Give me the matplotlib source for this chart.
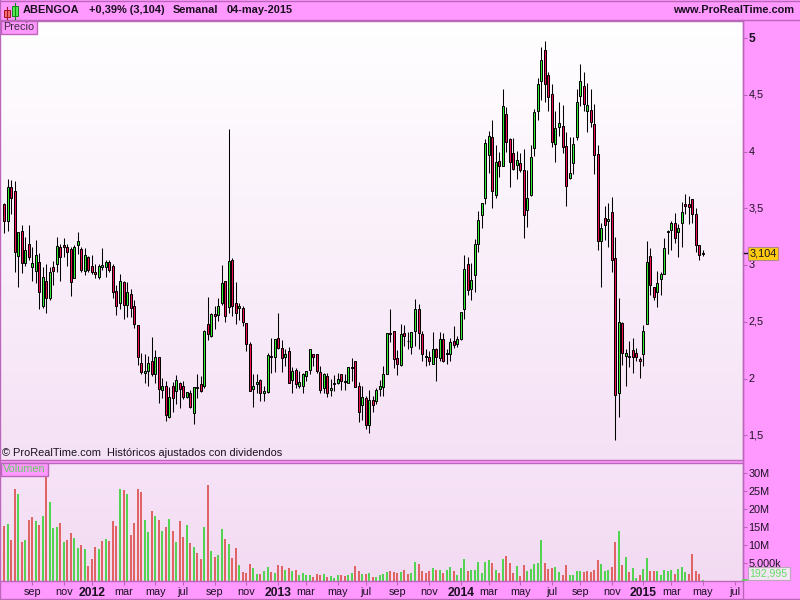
import numpy as np
import matplotlib
matplotlib.use("Agg")
import matplotlib.pyplot as plt
from matplotlib.colors import LinearSegmentedColormap
from matplotlib.patches import Rectangle
from matplotlib.transforms import ScaledTranslation

plt.rcParams['font.family'] = ['Liberation Sans', 'DejaVu Sans']

opens = [3.54,3.39,3.69,3.65,3.08,3.30,3.02,3.19,2.98,2.95,
3.03,2.64,2.86,2.71,2.98,3.01,3.16,3.18,3.16,3.14,
2.89,3.18,3.14,2.95,3.07,2.99,2.94,2.90,2.98,2.98,
3.03,2.99,2.77,2.67,2.85,2.65,2.75,2.64,2.47,2.14,
2.05,2.07,2.16,2.04,2.19,1.90,1.94,1.66,1.94,1.89,
1.96,1.94,1.84,1.87,1.70,1.92,1.95,1.94,2.48,2.38,
2.57,2.56,2.67,2.86,2.63,3.05,2.67,2.62,2.62,2.49,
2.31,1.91,1.95,1.99,1.87,1.88,2.20,2.19,2.36,2.27,
2.19,2.24,1.99,2.08,1.94,1.94,2.02,2.08,2.22,2.22,
2.06,1.92,2.02,1.90,1.95,1.96,2.04,1.97,1.96,2.09,
2.16,1.94,1.77,1.83,1.59,1.81,1.80,1.91,1.93,2.04,
2.39,2.42,2.18,2.12,2.40,2.33,2.28,2.42,2.61,2.39,
2.19,2.19,2.13,2.26,2.18,2.35,2.22,2.22,2.33,2.31,
2.35,2.61,3.01,2.79,2.91,3.19,3.44,3.59,3.97,4.13,
3.62,3.92,3.87,4.33,4.11,3.99,3.88,3.90,3.84,3.49,
3.62,4.03,4.36,4.62,4.90,4.68,4.51,4.07,4.22,4.23,
4.05,3.77,3.90,4.13,4.49,4.58,4.36,4.37,4.24,3.98,
3.21,3.42,3.39,3.47,3.06,1.87,2.49,2.20,2.20,2.25,
2.23,2.17,2.22,2.48,3.08,2.81,2.76,2.88,2.92,3.29,
3.31,3.37,3.29,3.37,3.54,3.54,3.58,3.45,3.18,3.10]

closes = [3.39,3.69,3.59,3.12,3.29,3.02,3.13,3.07,3.02,3.09,
2.76,2.90,2.71,2.94,2.95,3.17,3.07,3.16,3.12,2.85,
3.16,3.21,2.96,3.09,2.96,2.94,2.92,2.99,3.00,3.03,
2.96,2.76,2.64,2.86,2.65,2.76,2.62,2.48,2.19,2.06,
2.07,2.14,2.04,2.19,1.91,1.94,1.68,1.84,1.83,1.99,
1.91,1.84,1.88,1.75,1.93,1.93,1.89,2.42,2.39,2.57,
2.55,2.64,2.84,2.55,3.04,2.64,2.58,2.64,2.50,2.31,
1.89,1.94,1.97,1.87,1.89,2.21,2.19,2.35,2.27,2.18,
2.22,1.96,2.07,1.95,1.97,2.04,2.07,2.26,2.19,2.07,
1.90,2.04,1.87,1.92,1.96,2.00,1.98,1.98,2.10,2.10,
1.93,1.71,1.84,1.59,1.81,1.77,1.90,1.94,2.04,2.40,
2.40,2.17,2.13,2.39,2.38,2.33,2.41,2.61,2.40,2.22,
2.20,2.16,2.26,2.19,2.35,2.16,2.22,2.32,2.30,2.35,
2.59,2.97,2.78,2.87,3.19,3.40,3.55,4.08,4.14,3.65,
3.91,3.87,4.40,4.09,3.91,3.85,3.93,3.84,3.44,3.59,
3.95,4.35,4.60,4.81,4.60,4.48,4.09,4.21,4.25,4.04,
3.70,3.81,4.07,4.44,4.62,4.42,4.41,4.26,3.97,3.21,
3.33,3.35,3.41,3.05,1.86,2.50,2.23,2.23,2.19,2.19,
2.19,2.16,2.42,3.03,2.83,2.72,2.84,2.92,3.15,3.30,
3.37,3.24,3.33,3.47,3.52,3.51,3.45,3.18,3.09,3.104]

highs = [3.55,3.76,3.75,3.74,3.29,3.35,3.25,3.35,3.16,3.22,
3.11,2.98,3.01,2.98,3.04,3.25,3.19,3.24,3.19,3.16,
3.18,3.29,3.16,3.15,3.08,3.09,3.01,3.01,3.15,3.05,
3.05,3.01,2.83,2.92,2.86,2.85,2.79,2.69,2.47,2.23,
2.22,2.20,2.37,2.25,2.19,2.01,1.98,1.93,1.97,2.03,
1.97,1.98,1.88,1.90,1.93,2.04,2.02,2.43,2.72,2.58,
2.64,2.71,3.00,2.86,4.20,3.06,2.85,2.67,2.64,2.49,
2.32,2.04,2.04,2.00,1.94,2.23,2.36,2.35,2.58,2.34,
2.26,2.28,2.10,2.09,2.07,2.05,2.07,2.26,2.22,2.22,
2.11,2.05,2.05,2.00,2.03,2.05,2.04,2.04,2.10,2.18,
2.16,1.97,1.94,1.85,1.90,1.85,1.92,1.99,2.11,2.40,
2.61,2.42,2.25,2.48,2.47,2.41,2.41,2.70,2.66,2.42,
2.26,2.24,2.41,2.27,2.41,2.40,2.26,2.36,2.46,2.38,
2.59,3.09,3.07,3.02,3.23,3.48,3.55,4.11,4.18,4.28,
4.06,4.00,4.55,4.39,4.12,4.12,4.01,3.99,4.02,3.84,
4.06,4.38,4.65,4.92,4.98,4.70,4.60,4.36,4.44,4.41,
4.17,4.13,4.13,4.55,4.77,4.70,4.61,4.55,4.42,4.06,
3.37,3.52,3.55,3.60,3.25,2.71,2.50,2.26,2.33,2.36,
2.27,2.19,2.47,3.21,3.15,2.81,2.95,2.94,3.24,3.31,
3.39,3.46,3.36,3.56,3.63,3.61,3.58,3.50,3.18,3.13]

lows = [3.28,3.30,3.45,2.94,2.81,2.93,2.99,3.05,2.86,2.84,
2.61,2.62,2.58,2.69,2.83,2.94,2.86,3.07,2.99,2.73,
2.89,3.10,2.94,2.91,2.94,2.92,2.89,2.88,2.96,2.90,
2.94,2.71,2.56,2.61,2.53,2.54,2.54,2.45,2.12,2.04,
1.96,1.94,2.02,1.96,1.79,1.83,1.63,1.65,1.71,1.78,
1.74,1.82,1.83,1.74,1.60,1.83,1.885,1.92,2.34,2.37,
2.44,2.51,2.65,2.50,2.58,2.55,2.48,2.52,2.46,2.24,
1.89,1.75,1.87,1.80,1.80,1.87,2.05,2.06,2.26,2.06,
2.11,1.96,1.87,1.92,1.92,1.87,1.98,2.04,2.11,2.05,
1.87,1.87,1.84,1.85,1.89,1.95,1.90,1.90,1.96,1.98,
1.93,1.62,1.64,1.56,1.52,1.71,1.78,1.85,1.85,2.04,
2.32,2.09,2.03,2.11,2.29,2.26,2.22,2.29,2.26,2.16,
2.11,2.12,2.13,1.98,2.16,2.15,2.13,2.16,2.27,2.28,
2.34,2.53,2.74,2.69,2.76,3.12,3.33,3.54,3.81,3.50,
3.59,3.78,3.87,4.00,3.69,3.84,3.76,3.82,3.24,3.34,
3.61,3.96,4.28,4.46,4.44,4.36,4.04,3.91,4.14,3.99,
3.52,3.76,3.80,4.10,4.40,4.36,4.17,4.22,3.80,3.13,
2.81,3.22,3.16,2.94,1.46,1.66,2.12,1.94,2.10,2.05,
2.16,2.01,2.11,2.48,2.74,2.69,2.63,2.74,2.92,3.10,
3.13,3.20,3.07,3.16,3.45,3.36,3.37,3.12,3.05,3.08]

volumes = [15.3,15.8,11.4,25.4,24.2,10.8,11.4,17.0,17.8,16.7,
15.6,18.1,31.0,22.0,14.7,15.0,16.1,10.8,11.4,13.3,
11.9,9.1,10.0,8.9,4.1,6.1,9.4,8.9,11.1,11.7,
11.1,16.7,15.3,25.4,25.1,24.0,12.8,16.1,25.4,24.8,
17.0,13.6,19.5,18.1,17.0,13.9,15.0,17.2,13.9,10.8,
16.7,12.2,15.6,10.5,9.4,7.7,6.1,15.0,26.7,8.3,
6.6,7.2,14.4,11.7,10.3,6.3,9.1,4.4,2.4,2.1,
4.7,3.5,1.9,1.9,2.7,3.8,2.4,2.1,4.4,4.1,
3.0,3.5,2.7,3.0,1.6,2.1,1.6,1.6,1.0,1.9,
1.6,1.9,1.0,1.3,0.7,1.6,1.6,1.3,1.6,2.1,
4.1,2.7,1.9,1.9,2.1,1.0,1.0,1.6,1.9,2.4,
2.7,2.4,2.1,2.4,3.0,1.9,2.1,5.2,4.7,2.7,
2.1,2.7,3.5,3.0,3.0,2.1,3.0,3.8,2.7,1.6,
3.5,6.1,2.7,3.0,3.0,5.2,2.1,5.2,5.8,4.9,
3.0,2.1,6.1,6.9,4.9,2.1,4.1,1.3,4.4,2.7,
3.3,4.7,4.9,11.4,4.9,3.3,3.5,3.8,2.4,1.6,
4.4,1.6,1.6,2.7,2.7,2.4,2.7,2.4,3.0,5.8,
4.7,2.7,3.0,3.8,10.8,13.9,4.4,6.6,2.4,3.5,
0.7,1.6,3.3,6.3,2.7,2.7,2.7,1.6,3.0,2.7,
3.0,1.9,3.3,3.8,2.4,1.9,7.5,2.7,1.9,0.193]

volume_dirs = ("rgrrgrgrrg" "rgrgggrgrr" "ggrgrrrgrg" "rrrgrgrrrr" "ggrgrgrgrg"
               "rrgrgrrgrg" "rggrgrrgrr" "rggrggrgrr" "grgrggggrr" "rgrgggrrgg"
               "rrgrgrgggg" "rrrgrrggrr" "rrgrgrggrg" "ggrggggggr" "grgrrrgrrg"
               "ggggrrrggr" "rggggrrrrr" "gggrrgrgrg" "grggrrgggg" "grgggrrrrg")

time_ticks = [8,17,25,34,43,51,60,69,78,86,95,103,112,121,130,138,147,156,164,173,182,190,199,208]
time_labels = ['sep','nov','2012','mar','may','jul','sep','nov','2013','mar','may','jul','sep','nov',
               '2014','mar','may','jul','sep','nov','2015','mar','may','jul']
price_ticks = [1.5,2,2.5,3,3.5,4,4.5,5]
price_labels = ['1,5','2','2,5','3','3,5','4','4,5','5']
vol_ticks = [5,10,15,20,25,30]
vol_labels = ['5.000k','10M','15M','20M','25M','30M']

PINK = '#FF99FF'
EDGE = '#BB66BB'
TXT = '#1A1020'
UP = '#33EE33'
DOWN = '#F0104F'
VUP = '#52D452'
VDOWN = '#E06464'
FS = 7.8
W, H = 800, 600

fig = plt.figure(figsize=(8, 6), dpi=100, facecolor=PINK)

def axes_px(x0, y0, x1, y1, **kw):
    return fig.add_axes([x0/W, 1-y1/H, (x1-x0)/W, (y1-y0)/H], **kw)

ax = axes_px(1, 21, 742.5, 459.5)
vax = axes_px(1, 462.5, 742.5, 580.5)

def gradient(a, top, bottom):
    cm = LinearSegmentedColormap.from_list('g', [top, bottom])
    a.imshow(np.linspace(0, 1, 256).reshape(-1, 1), cmap=cm, aspect='auto',
             extent=(0, 1, 0, 1), transform=a.transAxes, zorder=0)

gradient(ax, '#FFFFFF', '#F5E1F5')
gradient(vax, '#F7E3F7', '#F2DBF2')

idx = np.arange(len(closes))
o = np.array(opens); c = np.array(closes)
body_colors = [UP if cc >= oo else DOWN for oo, cc in zip(opens, closes)]
ax.vlines(idx, lows, highs, color='black', lw=0.75, zorder=2)
bars = ax.bar(idx, np.maximum(np.abs(c-o), 0.006), bottom=np.minimum(o, c), width=0.57,
              color=body_colors, edgecolor='black', linewidth=0.72, zorder=3)
for b in bars:
    b.set_snap(True)

vbars = vax.bar(idx, volumes, width=0.57, color=[VUP if d == 'g' else VDOWN for d in volume_dirs],
                linewidth=0, zorder=2)
for b in vbars:
    b.set_snap(True)

for a in (ax, vax):
    a.set_xlim(-0.883, 210.25)
    a.spines['left'].set_visible(False)
    for s in a.spines.values():
        s.set_color(EDGE)
        s.set_linewidth(1)
    a.yaxis.tick_right()
    a.tick_params(axis='y', colors=EDGE, labelcolor=TXT, length=3.2, width=0.8, pad=1.2, labelsize=FS)

ax.set_ylim(1.288, 5.152)
ax.set_xticks([])
ax.set_yticks(price_ticks)
ax.set_yticklabels(price_labels)
up1 = ScaledTranslation(0, 1/100, fig.dpi_scale_trans)
for lab, t in zip(ax.get_yticklabels(), price_ticks):
    lab.set_transform(lab.get_transform() + up1)
    if t == 5:
        lab.set_fontweight('bold')
        lab.set_fontsize(8.7)

vax.set_ylim(0, 32.9)
vax.set_yticks(vol_ticks)
vax.set_yticklabels(vol_labels)
vax.set_xticks(time_ticks)
vax.set_xticklabels(time_labels)
vax.tick_params(axis='x', colors=EDGE, labelcolor=TXT, length=3.2, width=0.8, pad=1.5, labelsize=FS)
for lab in vax.get_xticklabels():
    if lab.get_text().isdigit():
        lab.set_fontweight('bold')
        lab.set_fontsize(8.7)

# current price marker
ax.plot([1.0, 1.006], [closes[-1]]*2, transform=ax.get_yaxis_transform(), color='black', lw=1, clip_on=False, zorder=5)
ax.annotate('3,104', xy=(1, closes[-1]), xycoords=ax.get_yaxis_transform(), xytext=(5.2, 0),
            textcoords='offset points', va='center', ha='left', fontsize=FS, color=TXT,
            bbox=dict(boxstyle='square,pad=0.12', fc='#FFCC11', ec='#B08A88', lw=0.8), zorder=6, annotation_clip=False)

# overlay in pixel coordinates for the terminal chrome
ov = fig.add_axes([0, 0, 1, 1], facecolor='none')
ov.set_xlim(0, W); ov.set_ylim(H, 0); ov.axis('off')

ov.plot([0.5, 799.5], [0.5, 0.5], color=EDGE, lw=1)
ov.plot([0, 800], [20.3, 20.3], color=EDGE, lw=1)
ov.plot([0.3, 0.3], [0, 600], color=EDGE, lw=1)
ov.plot([0, 800], [599.3, 599.3], color=EDGE, lw=1)
ov.plot([742.5, 742.5], [20, 600], color=EDGE, lw=1)

# title icon
ov.plot([6.5, 6.5], [7, 19], color='#AA1122', lw=0.8)
ov.add_patch(Rectangle((3.5, 10), 6, 6.5, fc='#F07070', ec='#AA1122', lw=0.7))
ov.plot([14.5, 14.5], [3, 19], color='#118811', lw=0.8)
ov.add_patch(Rectangle((11.5, 6), 6, 9.5, fc='#55EE55', ec='#118811', lw=0.7))

head = dict(fontsize=7.9, fontweight='bold', color=TXT, va='center')
ov.text(23, 10.3, 'ABENGOA', **head)
ov.text(89, 10.3, '+0,39% (3,104)', **head)
ov.text(173, 10.3, 'Semanal', **head)
ov.text(227, 10.3, '04-may-2015', **head)
ov.text(794, 10.3, 'www.ProRealTime.com', ha='right', **head)

ov.add_patch(Rectangle((0.5, 20.5), 36, 13.5, fc=PINK, ec=EDGE, lw=1))
ov.text(3, 27.5, 'Precio', fontsize=FS, color='#3A2A3A', va='center')
ov.text(2, 453, '\u00a9 ProRealTime.com  Hist\u00f3ricos ajustados con dividendos', fontsize=7.9, color=TXT, va='center')

ov.add_patch(Rectangle((0.5, 462.5), 47, 13, fc=PINK, ec=EDGE, lw=1))
ov.text(3, 469, 'Volumen', fontsize=FS, color='#66CC66', va='center')

ov.plot([743, 747], [580, 580], color=VUP, lw=1.2)
ov.add_patch(Rectangle((747.5, 566.5), 42, 13.5, fc='#F4E6F4', ec='#BBAABB', lw=0.8))
ov.text(749.5, 573.5, '192,995', fontsize=7.6, color='#66DD66', va='center')

fig.savefig('out.png', dpi=100, facecolor=PINK)
